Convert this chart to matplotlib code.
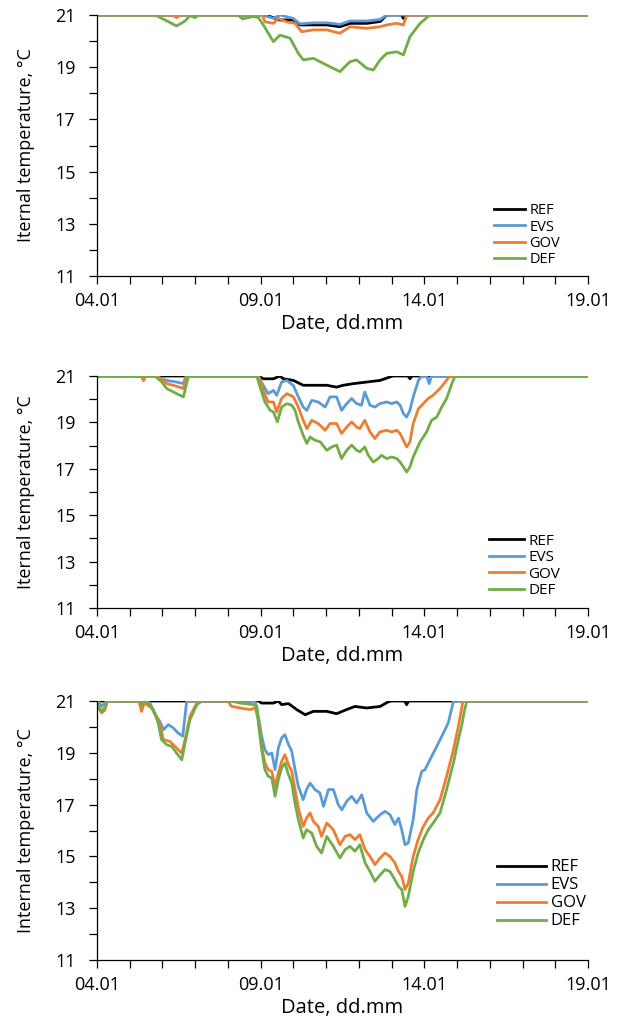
import matplotlib
matplotlib.use("Agg")
import matplotlib.pyplot as plt
from matplotlib.ticker import MultipleLocator, FixedLocator, FixedFormatter

plt.rcParams['font.family'] = ['Open Sans', 'DejaVu Sans']

# x = day of January, y = internal temperature (degC)
TICK_DAYS = [4, 9, 14, 19]
TICK_LABELS = ["04.01", "09.01", "14.01", "19.01"]
Y_TICKS = [11, 13, 15, 17, 19, 21]
SERIES = ["REF", "EVS", "GOV", "DEF"]
COLORS = ["#000000", "#5B9BD5", "#ED7D31", "#70AD47"]

# ---- panel 1
P1_REF_X = [4, 9.05, 9.29, 9.59, 9.99, 10.20, 10.61, 11.02, 11.42, 11.73, 12.24, 12.65, 12.85, 13.30, 13.36, 13.42, 19]
P1_REF_Y = [21, 21, 20.94, 20.81, 20.81, 20.62, 20.62, 20.62, 20.55, 20.68, 20.68, 20.75, 21, 21, 20.87, 21, 21]
P1_EVS_X = [4, 9.05, 9.39, 9.59, 9.99, 10.20, 10.61, 11.02, 11.42, 11.73, 12.24, 12.65, 12.85, 19]
P1_EVS_Y = [21, 21, 20.87, 21, 20.87, 20.66, 20.70, 20.70, 20.64, 20.77, 20.77, 20.83, 21, 21]
P1_GOV_X = [4, 6.3, 6.43, 6.55, 9.05, 9.13, 9.39, 9.54, 9.79, 10.05, 10.25, 10.61, 11.02, 11.42, 11.73, 12.24,
            12.65, 12.85, 13.16, 13.36, 13.46, 19]
P1_GOV_Y = [21, 21, 20.9, 21, 21, 20.74, 20.68, 20.87, 20.74, 20.68, 20.36, 20.43, 20.43, 20.30, 20.55, 20.49,
            20.55, 20.62, 20.68, 20.62, 21, 21]
P1_DEF_X = [4, 5.77, 6.08, 6.43, 6.69, 6.84, 7.0, 7.1, 8.3, 8.45, 8.77, 8.93, 9.08, 9.39, 9.59, 9.90, 10.15,
            10.30, 10.61, 11.02, 11.42, 11.73, 11.93, 12.24, 12.44, 12.65, 12.85, 13.16, 13.36, 13.56, 13.87, 14.17, 19]
P1_DEF_Y = [21, 21, 20.81, 20.58, 20.77, 20.97, 20.9, 21, 21, 20.85, 20.94, 20.9, 20.62, 19.98, 20.23, 20.11, 19.53,
            19.28, 19.34, 19.08, 18.83, 19.21, 19.28, 18.96, 18.89, 19.28, 19.53, 19.59, 19.47, 20.17, 20.68, 21, 21]

# ---- panel 2
P2_REF_X = [4, 8.93, 9.08, 9.39, 9.59, 9.69, 10.0, 10.30, 10.61, 11.02, 11.32, 11.52, 11.83, 12.24, 12.65, 12.95,
            13.05, 13.50, 13.56, 13.62, 19]
P2_REF_Y = [21, 21, 20.88, 20.88, 21, 20.88, 20.81, 20.60, 20.60, 20.60, 20.52, 20.60, 20.67, 20.74, 20.81, 20.96,
            21, 21, 20.88, 21, 21]
P2_EVS_X = [4, 5.77, 5.98, 6.13, 6.43, 6.64, 6.72, 8.93, 9.08, 9.23, 9.39, 9.49, 9.64, 9.80, 10.0, 10.15, 10.30,
            10.41, 10.56, 10.76, 10.97, 11.12, 11.32, 11.47, 11.63, 11.78, 11.93, 12.08, 12.18, 12.34, 12.49, 12.64,
            12.85, 13.0, 13.16, 13.26, 13.36, 13.46, 13.56, 13.66, 13.82, 13.92, 14.07, 14.15, 14.22, 19]
P2_EVS_Y = [21, 21, 20.88, 20.81, 20.74, 20.67, 21, 21, 20.59, 20.24, 20.38, 20.17, 20.74, 20.81, 20.59, 20.10, 19.66,
            19.52, 19.95, 19.88, 19.66, 20.10, 20.10, 19.52, 19.81, 20.03, 19.81, 19.74, 20.31, 19.74, 19.66, 19.81,
            19.88, 19.81, 19.88, 19.74, 19.38, 19.23, 19.52, 20.10, 20.81, 21, 21, 20.67, 21, 21]
P2_GOV_X = [4, 5.35, 5.42, 5.49, 5.77, 5.98, 6.13, 6.43, 6.64, 6.74, 8.93, 9.08, 9.23, 9.39, 9.49, 9.64, 9.80, 10.0,
            10.15, 10.30, 10.41, 10.56, 10.76, 10.97, 11.12, 11.32, 11.47, 11.63, 11.78, 11.93, 12.03, 12.18, 12.34,
            12.49, 12.64, 12.85, 13.0, 13.16, 13.26, 13.36, 13.46, 13.56, 13.66, 13.82, 13.97, 14.12, 14.27, 14.48,
            14.68, 14.78, 19]
P2_GOV_Y = [21, 21, 20.8, 21, 21, 20.88, 20.67, 20.56, 20.46, 21, 21, 20.38, 19.88, 19.88, 19.45, 20.03, 20.24, 20.10,
            19.66, 19.09, 18.73, 19.09, 18.95, 18.66, 18.95, 18.95, 18.52, 18.80, 19.02, 18.80, 18.73, 19.09, 18.59,
            18.30, 18.59, 18.66, 18.59, 18.66, 18.52, 18.23, 17.94, 18.16, 18.95, 19.59, 19.81, 20.03, 20.17, 20.46,
            20.82, 21, 21]
P2_DEF_X = [4, 5.77, 5.98, 6.13, 6.43, 6.64, 6.79, 8.88, 8.98, 9.13, 9.29, 9.39, 9.51, 9.64, 9.80, 9.95, 10.05,
            10.15, 10.30, 10.41, 10.51, 10.66, 10.82, 11.02, 11.17, 11.32, 11.47, 11.63, 11.78, 11.93, 12.03, 12.18,
            12.29, 12.44, 12.59, 12.69, 12.85, 13.0, 13.16, 13.26, 13.36, 13.46, 13.56, 13.66, 13.87, 14.07, 14.22,
            14.38, 14.53, 14.68, 14.84, 14.94, 19]
P2_DEF_Y = [21, 21, 20.74, 20.46, 20.24, 20.10, 21, 21, 20.53, 19.88, 19.52, 19.45, 19.02, 19.66, 19.81, 19.74, 19.52,
            19.02, 18.44, 18.09, 18.37, 18.23, 18.16, 17.80, 17.94, 18.02, 17.44, 17.80, 18.02, 17.80, 17.73, 17.94,
            17.58, 17.29, 17.44, 17.58, 17.44, 17.51, 17.44, 17.29, 17.08, 16.86, 17.08, 17.51, 18.16, 18.59, 19.09,
            19.23, 19.66, 20.03, 20.67, 21, 21]

# ---- panel 3
P3_REF_X = [4, 8.93, 9.03, 9.39, 9.54, 9.64, 9.85, 10.10, 10.36, 10.61, 11.02, 11.32, 11.63, 11.88, 12.24, 12.65,
            12.90, 13.0, 13.40, 13.46, 13.52, 19]
P3_REF_Y = [21, 21, 20.92, 20.92, 21, 20.86, 20.90, 20.67, 20.47, 20.60, 20.60, 20.51, 20.67, 20.79, 20.73, 20.79,
            20.97, 21, 21, 20.86, 21, 21]
P3_EVS_X = [4, 4.08, 4.14, 4.30, 5.30, 5.36, 5.42, 5.62, 5.77, 5.92, 6.03, 6.18, 6.33, 6.48, 6.62, 6.74, 8.83, 8.93,
            9.03, 9.13, 9.23, 9.34, 9.44, 9.54, 9.64, 9.74, 9.85, 9.95, 10.05, 10.15, 10.30, 10.40, 10.51, 10.66,
            10.81, 10.92, 11.07, 11.22, 11.37, 11.48, 11.63, 11.78, 11.93, 12.09, 12.24, 12.44, 12.65, 12.80, 12.95,
            13.10, 13.21, 13.31, 13.41, 13.51, 13.66, 13.77, 13.92, 14.02, 14.17, 14.38, 14.58, 14.73, 14.89, 19]
P3_EVS_Y = [21, 20.9, 20.79, 21, 21, 20.79, 21, 20.92, 20.47, 20.21, 19.89, 20.09, 19.96, 19.76, 19.64, 21, 21, 20.41,
            19.64, 19.12, 18.93, 18.99, 18.35, 19.19, 19.57, 19.70, 19.32, 19.06, 18.35, 17.71, 17.19, 17.58, 17.83,
            17.58, 17.45, 16.93, 17.58, 17.58, 17.00, 16.80, 17.13, 17.32, 17.06, 17.38, 16.68, 16.35, 16.61, 16.74,
            16.61, 16.23, 16.48, 16.03, 15.45, 15.52, 16.42, 17.58, 18.28, 18.35, 18.73, 19.25, 19.76, 20.15, 21, 21]
P3_GOV_X = [4, 4.06, 4.14, 4.24, 4.32, 5.28, 5.36, 5.44, 5.52, 5.67, 5.82, 5.92, 6.03, 6.23, 6.33, 6.48, 6.59, 6.69,
            6.84, 7.05, 7.2, 8.0, 8.1, 8.37, 8.67, 8.83, 8.93, 9.03, 9.13, 9.23, 9.34, 9.44, 9.54, 9.64, 9.74, 9.85,
            9.95, 10.05, 10.15, 10.30, 10.40, 10.51, 10.61, 10.76, 10.86, 11.02, 11.22, 11.42, 11.58, 11.73, 11.88,
            12.03, 12.19, 12.34, 12.49, 12.65, 12.80, 12.95, 13.10, 13.21, 13.31, 13.41, 13.51, 13.66, 13.81, 13.97,
            14.12, 14.27, 14.48, 14.68, 14.89, 15.04, 15.18, 19]
P3_GOV_Y = [21, 20.7, 20.54, 20.65, 21, 21, 20.6, 20.9, 20.86, 20.73, 20.41, 20.09, 19.50, 19.44, 19.31, 19.12, 18.99,
            19.51, 20.41, 20.92, 21, 21, 20.8, 20.73, 20.67, 20.73, 20.28, 19.25, 18.61, 18.35, 18.28, 17.71, 18.22,
            18.67, 18.93, 18.54, 18.28, 17.58, 16.87, 16.16, 16.48, 16.68, 16.35, 16.16, 15.77, 16.29, 16.03, 15.45,
            15.77, 15.84, 15.65, 15.84, 15.26, 15.00, 14.68, 14.94, 15.13, 15.00, 14.75, 14.42, 14.23, 13.72, 13.97,
            15.00, 15.65, 16.16, 16.48, 16.68, 17.19, 18.09, 19.12, 20.02, 21, 21]
P3_DEF_X = [4, 4.06, 4.14, 4.24, 4.32, 5.30, 5.36, 5.42, 5.55, 5.72, 5.87, 5.97, 6.13, 6.28, 6.43, 6.59, 6.69, 6.84,
            7.05, 7.2, 8.1, 8.37, 8.78, 8.88, 8.93, 9.03, 9.13, 9.23, 9.34, 9.44, 9.54, 9.64, 9.74, 9.85, 9.95, 10.05,
            10.15, 10.30, 10.40, 10.56, 10.71, 10.86, 11.02, 11.22, 11.42, 11.58, 11.73, 11.88, 12.03, 12.19, 12.34,
            12.49, 12.65, 12.80, 12.95, 13.10, 13.21, 13.31, 13.41, 13.51, 13.66, 13.81, 13.97, 14.12, 14.27, 14.48,
            14.68, 14.89, 15.04, 15.15, 15.22, 15.30, 19]
P3_DEF_Y = [21, 20.75, 20.6, 20.75, 21, 21, 20.86, 21, 20.92, 20.67, 20.15, 19.51, 19.31, 19.25, 18.99, 18.73, 19.38,
            20.28, 20.86, 21, 21, 20.92, 20.86, 20.79, 20.15, 19.12, 18.35, 18.09, 18.03, 17.32, 17.96, 18.41, 18.61,
            18.16, 17.83, 17.06, 16.42, 15.71, 16.03, 15.90, 15.39, 15.13, 15.77, 15.39, 14.94, 15.26, 15.39, 15.20,
            15.45, 14.75, 14.42, 14.04, 14.29, 14.49, 14.42, 14.10, 13.84, 13.72, 13.07, 13.46, 14.42, 15.13, 15.65,
            16.03, 16.29, 16.68, 17.58, 18.61, 19.51, 20.1, 20.6, 21, 21]

PANELS = [
    ([P1_REF_X, P1_EVS_X, P1_GOV_X, P1_DEF_X], [P1_REF_Y, P1_EVS_Y, P1_GOV_Y, P1_DEF_Y], "Iternal temperature, °C"),
    ([P2_REF_X, P2_EVS_X, P2_GOV_X, P2_DEF_X], [P2_REF_Y, P2_EVS_Y, P2_GOV_Y, P2_DEF_Y], "Iternal temperature, °C"),
    ([P3_REF_X, P3_EVS_X, P3_GOV_X, P3_DEF_X], [P3_REF_Y, P3_EVS_Y, P3_GOV_Y, P3_DEF_Y], "Internal temperature, °C"),
]

W, H = 624, 1033
fig = plt.figure(figsize=(W / 100, H / 100), dpi=100)

# axes boxes in pixels: (left, top, right, bottom)
boxes = [(97, 15, 588, 276), (97, 376, 588, 608), (97, 701, 588, 960)]
# legend: font size, handle length, row spacing, top-left anchor in pixels
legend_style = [(10.5, 2.1, 0.09, (487, 196)),
                (11, 2.3, 0.10, (481, 526)),
                (12, 2.9, 0.12, (489, 851))]

for (xs, ys, ylab), (l, t, r, b), (lfs, hl, ls, (lx, ly)) in zip(PANELS, boxes, legend_style):
    ax = fig.add_axes([l / W, 1 - b / H, (r - l) / W, (b - t) / H])
    for x, y, name, c in zip(xs, ys, SERIES, COLORS):
        ax.plot(x, y, color=c, lw=2.0, label=name)
    ax.set_xlim(4, 19)
    ax.set_ylim(11, 21)
    ax.xaxis.set_major_locator(FixedLocator(TICK_DAYS))
    ax.xaxis.set_major_formatter(FixedFormatter(TICK_LABELS))
    ax.xaxis.set_minor_locator(MultipleLocator(1))
    ax.yaxis.set_major_locator(FixedLocator(Y_TICKS))
    ax.yaxis.set_minor_locator(MultipleLocator(1))
    ax.tick_params(which='both', direction='out', length=5.5, width=0.9)
    ax.tick_params(axis='x', labelsize=13, pad=6)
    ax.tick_params(axis='y', labelsize=13, pad=10)
    for s in ['top', 'right']:
        ax.spines[s].set_visible(False)
    for s in ['left', 'bottom']:
        ax.spines[s].set_linewidth(0.9)
    ax.set_xlabel("Date, dd.mm", fontsize=14.5, labelpad=3)
    ax.set_ylabel(ylab, fontsize=13, labelpad=14)
    ax.legend(loc='upper left', bbox_to_anchor=(lx / W, 1 - ly / H), bbox_transform=fig.transFigure,
              frameon=False, fontsize=lfs, handlelength=hl, handletextpad=0.3, labelspacing=ls, borderpad=0)

fig.savefig("out.png", dpi=100)
